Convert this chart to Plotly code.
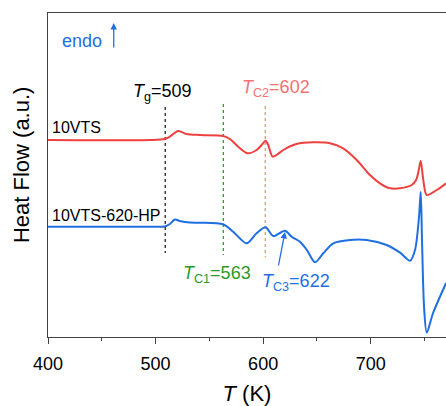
import plotly.graph_objects as go

# ---- data ----
T_red = [400, 494.6, 508.6, 513.2, 521.0, 528.8, 541.2, 562.8, 569.1, 576.8, 585.5, 593.9,
         598.6, 602.3, 604.7, 608.8, 612.5, 618.7, 628.0, 637.3, 662.1, 674.5, 687.0,
         699.3, 708.6, 718.0, 727.3, 738.1, 742.2, 744.5, 746.5, 748.9, 752.1, 761.4, 770.1]
HF_red = [197, 197, 198, 200.3, 206, 203, 202, 201, 198, 190.3, 183.7, 187,
          192, 196.3, 192, 180.3, 182, 187, 192, 194.3, 193.7, 188.7, 177,
          162, 153.7, 148.7, 148.7, 152, 157, 166, 176.3, 157, 142, 147, 153.7]

T_blue = [400, 494.6, 508.6, 513.2, 517.9, 522.5, 531.9, 541.2, 562.8, 572.1, 584.6, 593.9,
          602.3, 609.4, 620.3, 626.5, 634.2, 640.7, 648.2, 655.9, 665.2, 680.7, 696.3,
          714.9, 727.3, 736.6, 741.2, 744.9, 746.5, 747.7, 749.6, 752.1, 758.0, 770.1]
HF_blue = [110.3, 110.3, 110.5, 113, 117.5, 116, 114.5, 114.3, 112.7, 105.3, 93.7, 103.7,
           109.7, 101, 106.3, 100.3, 95.3, 87, 74.7, 83.7, 93.7, 97, 97,
           92, 84.3, 76.3, 87, 120, 145.3, 97, 30, 4.3, 24, 54]

series_names = ["10VTS", "10VTS-620-HP"]

Tg, Tc1, Tc2, Tc3 = 509, 563, 602, 622
vline_T = [Tg, Tc1, Tc2]
vline_top = [230, 233, 231]
vline_bot = [84, 82, 80]
vline_colors = ["#222222", "#2ea02e", "#f39a45"]

x_ticks = [400, 500, 600, 700]
x_minor = [450, 550, 650, 750]

RED = "#ef4040"
BLUE = "#1f6fe0"
FONT = "Arial, Liberation Sans, sans-serif"

fig = go.Figure()

for T0, y0, y1, c in zip(vline_T, vline_top, vline_bot, vline_colors):
    fig.add_trace(go.Scatter(x=[T0, T0], y=[y0, y1], mode="lines",
                             line=dict(color=c, width=1.3, dash="dot"),
                             showlegend=False, hoverinfo="skip"))

fig.add_trace(go.Scatter(x=T_red, y=HF_red, mode="lines", name=series_names[0],
                         line=dict(color=RED, width=2, shape="spline", smoothing=0.8),
                         showlegend=False))
fig.add_trace(go.Scatter(x=T_blue, y=HF_blue, mode="lines", name=series_names[1],
                         line=dict(color=BLUE, width=2, shape="spline", smoothing=0.8),
                         showlegend=False))

ann = []
ann.append(dict(x=401.5, y=210, text=series_names[0], xanchor="left", yanchor="middle",
                showarrow=False, font=dict(size=16, color="black")))
ann.append(dict(x=401.5, y=122, text=series_names[1], xanchor="left", yanchor="middle",
                showarrow=False, font=dict(size=16, color="black")))
ann.append(dict(x=506.3, y=245, text="<i>T</i><sub>g</sub>=509", xanchor="center", yanchor="middle",
                showarrow=False, font=dict(size=18, color="black")))
ann.append(dict(x=612.4, y=249, text="<i>T</i><sub>C2</sub>=602", xanchor="center", yanchor="middle",
                showarrow=False, font=dict(size=18, color="#f27272")))
ann.append(dict(x=556.7, y=63, text="<i>T</i><sub>C1</sub>=563", xanchor="center", yanchor="middle",
                showarrow=False, font=dict(size=18, color="#2a9a2a")))
ann.append(dict(x=631, y=55, text="<i>T</i><sub>C3</sub>=622", xanchor="center", yanchor="middle",
                showarrow=False, font=dict(size=18, color=BLUE)))
# arrow to Tc3 peak
ann.append(dict(x=620.3, y=105, ax=614.0, ay=70, axref="x", ayref="y", text="",
                showarrow=True, arrowhead=2, arrowsize=1, arrowwidth=1.3, arrowcolor=BLUE))
# endo label + arrow
ann.append(dict(x=431.9, y=296, text="endo", xanchor="center", yanchor="middle",
                showarrow=False, font=dict(size=18, color=BLUE)))
ann.append(dict(x=461.1, y=314, ax=461.1, ay=288, axref="x", ayref="y", text="",
                showarrow=True, arrowhead=2, arrowsize=1, arrowwidth=1.3, arrowcolor=BLUE))
# y title
ann.append(dict(xref="paper", yref="paper", x=-0.065, y=0.531, text="Heat Flow (a.u.)",
                textangle=-90, showarrow=False, xanchor="center", yanchor="middle",
                font=dict(size=22, color="black")))

fig.update_layout(
    width=446, height=406,
    margin=dict(l=48, r=0, t=13, b=69, autoexpand=False),
    paper_bgcolor="white", plot_bgcolor="white",
    font=dict(family=FONT, color="black"),
    annotations=ann,
    showlegend=False,
)
fig.update_xaxes(range=[400, 770], tickvals=x_ticks, ticks="outside", ticklen=6, tickwidth=1,
                 tickcolor="#444", showline=True, linecolor="#444", linewidth=1, mirror=True,
                 showgrid=False, zeroline=False, tickfont=dict(size=18, color="black"),
                 automargin=False, ticklabelstandoff=4,
                 minor=dict(ticks="outside", tickvals=x_minor, ticklen=3, tickcolor="#444"),
                 title=dict(text="<i>T</i> (K)", font=dict(size=22, color="black"), standoff=20))
fig.update_yaxes(range=[0, 324], showticklabels=False, ticks="", showline=True, linecolor="#444",
                 linewidth=1, mirror=False, showgrid=False, zeroline=False, automargin=False)

fig.write_html("out.html")
